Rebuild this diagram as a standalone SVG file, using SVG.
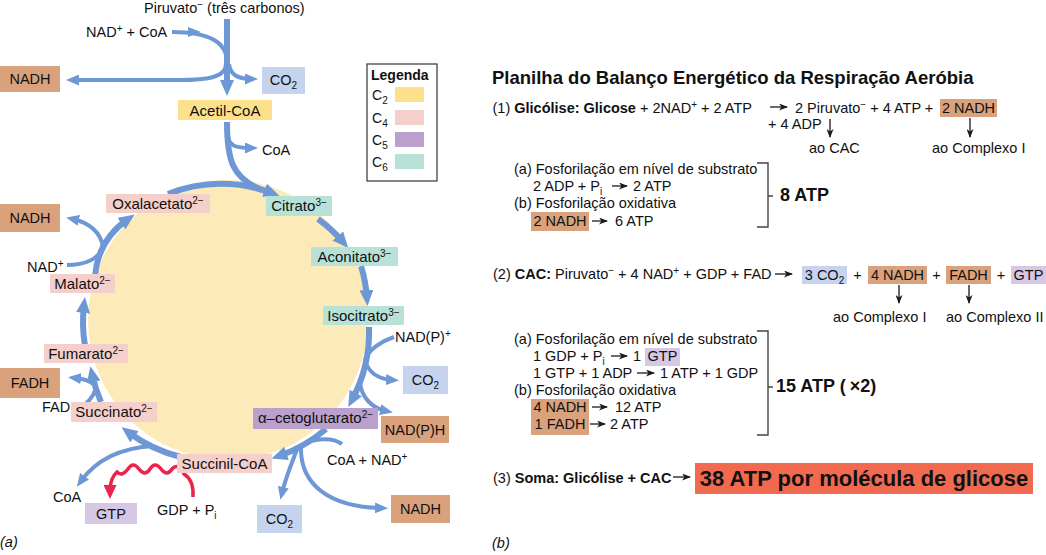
<svg xmlns="http://www.w3.org/2000/svg" width="1046" height="555" viewBox="0 0 1046 555">
<style>
text{font-family:"Liberation Sans",Arial,Helvetica,sans-serif;font-size:14.5px;fill:#111}
.b{font-weight:bold}
.ring{fill:none;stroke:#6e97d5;stroke-width:6}
.br{fill:none;stroke:#6e97d5;stroke-width:4}
.red{fill:none;stroke:#e8254b;stroke-width:3.5}
.k{fill:none;stroke:#1a1a1a;stroke-width:1.3}
.brk{fill:none;stroke:#444;stroke-width:1.4}
.nadh{fill:#d9a27c}
.co2{fill:#c5d3ee}
.c2{fill:#fde08c}
.c4{fill:#f5cfca}
.c5{fill:#b9a0cd}
.c6{fill:#b8e2d8}
.gtp{fill:#d6c8e4}
.m{text-anchor:middle}
.n{font-size:15px}
</style>
<defs>
<marker id="ah" viewBox="0 0 16 14" markerWidth="16" markerHeight="14" refX="8" refY="7" orient="auto" markerUnits="userSpaceOnUse"><path d="M0,0 L16,7 L0,14 z" fill="#6e97d5"/></marker>
<marker id="as" viewBox="0 0 13 11" markerWidth="13" markerHeight="11" refX="6" refY="5.5" orient="auto" markerUnits="userSpaceOnUse"><path d="M0,0 L13,5.5 L0,11 z" fill="#6e97d5"/></marker>
<marker id="ar" viewBox="0 0 14 13" markerWidth="14" markerHeight="13" refX="6" refY="6.5" orient="auto" markerUnits="userSpaceOnUse"><path d="M0,0 L14,6.5 L0,13 z" fill="#e8254b"/></marker>
<marker id="ak" viewBox="0 0 9 7" markerWidth="9" markerHeight="7" refX="8" refY="3.5" orient="auto" markerUnits="userSpaceOnUse"><path d="M0,0 L9,3.5 L0,7 L2.5,3.5 z" fill="#1a1a1a"/></marker>
</defs>

<circle id="ciclo" cx="228" cy="320" r="140" fill="#fdeab9"/>

<g id="connectors">
<path class="ring" d="M227,19 L227,88" marker-end="url(#ah)"/>
<path class="br" d="M172,32 C205,32 227,40 227,62"/>
<path d="M188,27 L201,32 L188,37 z" fill="#6e97d5"/>
<path class="br" d="M226,64 C226,78 205,80 180,80 L73,80" marker-end="url(#as)"/>
<path class="br" d="M229,64 C230,74 238,79 251,79" marker-end="url(#as)"/>
<path class="ring" d="M227,122 C227,160 232,178 262,190"/>
<path class="br" d="M228,136 C229,146 236,148 251,148" marker-end="url(#as)"/>
<path class="ring" d="M168,194 A145,145 0 0 1 272,193" marker-end="url(#ah)"/>
<path class="ring" d="M318,219 A145,145 0 0 1 343,242" marker-end="url(#ah)"/>
<path class="ring" d="M361,266 A145,145 0 0 1 367,298" marker-end="url(#ah)"/>
<path class="ring" d="M369,327 A145,145 0 0 1 352,400" marker-end="url(#ah)"/>
<path class="br" d="M394,337 C382,341 369,349 365,360"/>
<path class="br" d="M365,360 C368,372 378,379 392,380" marker-end="url(#as)"/>
<path class="br" d="M360,383 C362,398 372,408 386,411" marker-end="url(#as)"/>
<path class="ring" d="M326,429 A145,145 0 0 1 279,456" marker-end="url(#ah)"/>
<path class="br" d="M342,444 C332,437 315,438 302,445"/>
<path class="br" d="M298,447 C292,462 285,480 282,493" marker-end="url(#as)"/>
<path class="br" d="M301,447 C300,485 330,507 381,508" marker-end="url(#as)"/>
<path class="ring" d="M181,457 A145,145 0 0 1 128,432" marker-end="url(#ah)"/>
<path class="br" d="M152,446 C122,448 97,459 81,481" marker-end="url(#as)"/>
<path class="red" d="M193,497 Q194,480 184,474 Q178,462 172,469 Q167,477 161,469 Q155,461 150,469 Q145,477 139,469 Q133,461 128,469 Q122,477 117,472 Q110,478 110,491" marker-end="url(#ar)"/>
<path class="ring" d="M101,402 A145,145 0 0 1 92,374" marker-end="url(#ah)"/>
<path class="br" d="M77,409 C86,405 93,398 96,388"/>
<path class="br" d="M96,388 C93,381 85,379 75,378" marker-end="url(#as)"/>
<path class="ring" d="M85,346 A145,145 0 0 1 84,305" marker-end="url(#ah)"/>
<path class="ring" d="M95,276 Q98,240 128,219" marker-end="url(#ah)"/>
<path class="br" d="M67,265 C85,265 99,259 103,247"/>
<path class="br" d="M103,247 C101,233 90,223 73,219" marker-end="url(#as)"/>
</g>

<g id="piruvato"><text x="144" y="13">Piruvato<tspan dy="-5" font-size="10">−</tspan><tspan dy="5"> (três carbonos)</tspan></text></g>
<g id="nad-coa"><text x="86" y="37">NAD<tspan dy="-5" font-size="10">+</tspan><tspan dy="5"> + CoA</tspan></text></g>
<g id="nadh-a"><rect class="nadh" x="0" y="66" width="60" height="26"/><text class="m" x="30" y="84">NADH</text></g>
<g id="co2-a"><rect class="co2" x="262" y="67" width="43" height="27"/><text class="m" x="283.5" y="85">CO<tspan dy="4" font-size="10">2</tspan></text></g>
<g id="acetil-coa"><rect class="c2" x="178" y="100" width="94" height="20"/><text class="m n" x="225" y="115.5">Acetil-CoA</text></g>
<g id="coa-a"><text x="262" y="155">CoA</text></g>
<g id="citrato"><rect class="c6" x="266" y="196" width="66" height="20"/><text class="m n" x="299" y="211">Citrato<tspan dy="-5" font-size="10">3−</tspan></text></g>
<g id="aconitato"><rect class="c6" x="311" y="247" width="87" height="19"/><text class="m n" x="354.5" y="262">Aconitato<tspan dy="-5" font-size="10">3−</tspan></text></g>
<g id="isocitrato"><rect class="c6" x="323" y="306" width="81" height="19"/><text class="m n" x="363.5" y="321">Isocitrato<tspan dy="-5" font-size="10">3−</tspan></text></g>
<g id="nadp-plus"><text x="395" y="342">NAD(P)<tspan dy="-5" font-size="10">+</tspan></text></g>
<g id="co2-b"><rect class="co2" x="403" y="366" width="45" height="28"/><text class="m" x="425.5" y="385">CO<tspan dy="4" font-size="10">2</tspan></text></g>
<g id="alfa-cetoglutarato"><rect class="c5" x="253" y="408" width="125" height="21"/><text class="m n" x="315.5" y="423">α–cetoglutarato<tspan dy="-5" font-size="10">2−</tspan></text></g>
<g id="nadph"><rect class="nadh" x="381" y="416" width="68" height="27"/><text class="m" x="415" y="435">NAD(P)H</text></g>
<g id="coa-nad"><text x="327" y="465">CoA + NAD<tspan dy="-5" font-size="10">+</tspan></text></g>
<g id="nadh-c"><rect class="nadh" x="391" y="495" width="59" height="28"/><text class="m" x="420.5" y="514">NADH</text></g>
<g id="co2-c"><rect class="co2" x="257" y="505" width="45" height="28"/><text class="m" x="279.5" y="524">CO<tspan dy="4" font-size="10">2</tspan></text></g>
<g id="succinil-coa"><rect class="c4" x="177" y="454" width="95" height="19"/><text class="m n" x="224.5" y="469">Succinil-CoA</text></g>
<g id="gdp-pi"><text x="157" y="515">GDP + P<tspan dy="4" font-size="10">i</tspan></text></g>
<g id="gtp-a"><rect class="gtp" x="85" y="503" width="52" height="21"/><text class="m" x="111" y="519">GTP</text></g>
<g id="coa-b"><text x="53" y="502">CoA</text></g>
<g id="succinato"><rect class="c4" x="71" y="402" width="86" height="20"/><text class="m n" x="114" y="417">Succinato<tspan dy="-5" font-size="10">2−</tspan></text></g>
<g id="fad"><text x="42" y="412">FAD</text></g>
<g id="fadh"><rect class="nadh" x="0" y="368" width="60" height="30"/><text class="m" x="30" y="388">FADH</text></g>
<g id="fumarato"><rect class="c4" x="44" y="344" width="84" height="19"/><text class="m n" x="86" y="359">Fumarato<tspan dy="-5" font-size="10">2−</tspan></text></g>
<g id="malato"><rect class="c4" x="50" y="274" width="65" height="19"/><text class="m n" x="82.5" y="289">Malato<tspan dy="-5" font-size="10">2−</tspan></text></g>
<g id="nad-plus"><text x="27" y="272">NAD<tspan dy="-5" font-size="10">+</tspan></text></g>
<g id="nadh-b"><rect class="nadh" x="0" y="204" width="60" height="28"/><text class="m" x="30" y="223">NADH</text></g>
<g id="oxalacetato"><rect class="c4" x="106" y="194" width="104" height="19"/><text class="m n" x="158" y="209">Oxalacetato<tspan dy="-5" font-size="10">2−</tspan></text></g>

<g id="legenda">
<rect x="367" y="64" width="70" height="117" fill="#fff" stroke="#333" stroke-width="1.2"/>
<text x="371" y="80" class="b" style="font-size:14px">Legenda</text>
<text x="372" y="100" style="font-size:14px">C<tspan dy="4" font-size="10">2</tspan></text>
<rect class="c2" x="395" y="87" width="29" height="15"/>
<text x="372" y="123" style="font-size:14px">C<tspan dy="4" font-size="10">4</tspan></text>
<rect class="c4" x="395" y="110" width="29" height="15"/>
<text x="372" y="145" style="font-size:14px">C<tspan dy="4" font-size="10">5</tspan></text>
<rect class="c5" x="395" y="132" width="29" height="15"/>
<text x="372" y="167" style="font-size:14px">C<tspan dy="4" font-size="10">6</tspan></text>
<rect class="c6" x="395" y="154" width="29" height="15"/>
</g>

<g id="label-a"><text x="0" y="547" font-style="italic">(a)</text></g>

<g id="planilha">
<text x="492" y="84" class="b" style="font-size:18.5px">Planilha do Balanço Energético da Respiração Aeróbia</text>

<text x="492.5" y="113">(1) <tspan class="b">Glicólise: Glicose</tspan> + 2NAD<tspan dy="-5" font-size="10">+</tspan><tspan dy="5"> + 2 ATP</tspan></text>
<path class="k" d="M770,107 L787,107" marker-end="url(#ak)"/>
<text x="795" y="113">2 Piruvato<tspan dy="-5" font-size="10">−</tspan><tspan dy="5"> + 4 ATP +</tspan></text>
<rect class="nadh" x="940" y="99" width="57" height="18"/>
<text class="m" x="968.5" y="113">2 NADH</text>
<text x="768" y="129">+ 4 ADP</text>
<path class="k" d="M830,119 L830,137" marker-end="url(#ak)"/>
<path class="k" d="M970,118 L970,137" marker-end="url(#ak)"/>
<text x="809" y="153">ao CAC</text>
<text x="932" y="153">ao Complexo I</text>

<text x="514" y="174">(a) Fosforilação em nível de substrato</text>
<text x="533" y="191">2 ADP + P<tspan dy="4" font-size="10">i</tspan></text>
<path class="k" d="M612,186 L627,186" marker-end="url(#ak)"/>
<text x="633" y="191">2 ATP</text>
<text x="514" y="208">(b) Fosforilação oxidativa</text>
<rect class="nadh" x="531" y="212" width="58" height="19"/>
<text class="m" x="560" y="226">2 NADH</text>
<path class="k" d="M592,221 L607,221" marker-end="url(#ak)"/>
<text x="615" y="226">6 ATP</text>
<path class="brk" d="M757,163 H768 V227 H757 M768,196 H773"/>
<text x="780" y="201" class="b" style="font-size:18px">8 ATP</text>

<text x="493" y="279">(2) <tspan class="b">CAC:</tspan> Piruvato<tspan dy="-5" font-size="10">−</tspan><tspan dy="5"> + 4 NAD</tspan><tspan dy="-5" font-size="10">+</tspan><tspan dy="5"> + GDP + FAD</tspan></text>
<path class="k" d="M775,274 L792,274" marker-end="url(#ak)"/>
<rect class="co2" x="802" y="266" width="45" height="18"/>
<text class="m" x="824.5" y="280">3 CO<tspan dy="4" font-size="10">2</tspan></text>
<text class="m" x="857.5" y="280">+</text>
<rect class="nadh" x="868" y="266" width="59" height="18"/>
<text class="m" x="897.5" y="280">4 NADH</text>
<text class="m" x="936.5" y="280">+</text>
<rect class="nadh" x="946" y="266" width="45" height="18"/>
<text class="m" x="968.5" y="280">FADH</text>
<text class="m" x="1001" y="280">+</text>
<rect class="gtp" x="1011" y="266" width="35" height="18"/>
<text class="m" x="1028.5" y="280">GTP</text>
<path class="k" d="M899,285 L899,303" marker-end="url(#ak)"/>
<path class="k" d="M969,285 L969,303" marker-end="url(#ak)"/>
<text x="833" y="322">ao Complexo I</text>
<text x="946" y="322">ao Complexo II</text>

<text x="514" y="344">(a) Fosforilação em nível de substrato</text>
<text x="533" y="361">1 GDP + P<tspan dy="4" font-size="10">i</tspan></text>
<path class="k" d="M611,356 L627,356" marker-end="url(#ak)"/>
<text x="633" y="361">1</text>
<rect class="gtp" x="645" y="348" width="35" height="18"/>
<text class="m" x="662.5" y="361">GTP</text>
<text x="533" y="378">1 GTP + 1 ADP</text>
<path class="k" d="M637,373 L654,373" marker-end="url(#ak)"/>
<text x="660" y="378">1 ATP + 1 GDP</text>
<text x="514" y="395">(b) Fosforilação oxidativa</text>
<rect class="nadh" x="531" y="399" width="58" height="36"/>
<text class="m" x="560" y="412">4 NADH</text>
<path class="k" d="M592,407 L607,407" marker-end="url(#ak)"/>
<text x="615" y="412">12 ATP</text>
<text class="m" x="560" y="429">1 FADH</text>
<path class="k" d="M590,424 L605,424" marker-end="url(#ak)"/>
<text x="610" y="429">2 ATP</text>
<path class="brk" d="M757,331 H768 V435 H757 M768,387 H773"/>
<text x="776" y="392" class="b" style="font-size:18px">15 ATP (<tspan dx="4">×2)</tspan></text>

<text x="493" y="483">(3) <tspan class="b">Soma: Glicólise + CAC</tspan></text>
<path class="k" d="M673,477 L690,477" marker-end="url(#ak)"/>
<rect x="695" y="463" width="338" height="31" fill="#f16a50"/>
<text class="m b" x="864" y="486" style="font-size:22px">38 ATP por molécula de glicose</text>

<text x="492" y="548" font-style="italic">(b)</text>
</g>
</svg>
